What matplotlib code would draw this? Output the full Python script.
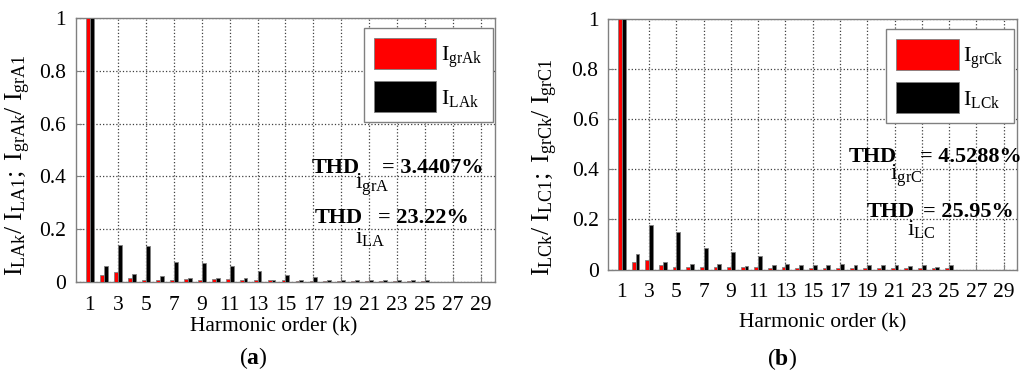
import numpy as np
import matplotlib
matplotlib.use('Agg')
import matplotlib.pyplot as plt
from matplotlib.ticker import FormatStrFormatter

plt.rcParams['font.family'] = ['Liberation Serif', 'DejaVu Serif']
plt.rcParams['mathtext.fontset'] = 'custom'
plt.rcParams['mathtext.rm'] = 'Liberation Serif'
plt.rcParams['mathtext.it'] = 'Liberation Serif:italic'
plt.rcParams['mathtext.bf'] = 'Liberation Serif:bold'

k = np.arange(1, 26)

# (a) phase A: grid current and load current spectra (normalised)
igrA = [1, 0.025, 0.038, 0.017, 0.009, 0.009, 0.009, 0.010, 0.009, 0.010,
        0.010, 0.008, 0.008, 0.006, 0.009, 0.005, 0.004, 0.003, 0.003, 0.003,
        0.003, 0.003, 0.003, 0.003, 0.003]
iLA = [1, 0.060, 0.141, 0.032, 0.136, 0.022, 0.076, 0.017, 0.071, 0.016,
       0.059, 0.016, 0.043, 0.009, 0.026, 0.009, 0.020, 0.009, 0.009, 0.008,
       0.009, 0.009, 0.008, 0.008, 0.009]

# (b) phase C
igrC = [1, 0.028, 0.037, 0.016, 0.011, 0.011, 0.011, 0.011, 0.011, 0.011,
        0.011, 0.005, 0.011, 0.005, 0.005, 0.005, 0.006, 0.008, 0.006, 0.005,
        0.006, 0.007, 0.007, 0.005, 0.005]
iLC = [1, 0.061, 0.176, 0.028, 0.149, 0.021, 0.085, 0.021, 0.068, 0.015,
       0.055, 0.016, 0.021, 0.016, 0.016, 0.016, 0.021, 0.016, 0.016, 0.016,
       0.016, 0.012, 0.016, 0.011, 0.016]

xticks = np.arange(1, 30, 2)
yticks = np.arange(0, 1.01, 0.2)

fig = plt.figure(figsize=(10.24, 3.74), dpi=100)
axA = fig.add_axes([0.0742, 0.246, 0.4092, 0.706])
axC = fig.add_axes([0.594, 0.2794, 0.3994, 0.6698])

panels = [
    (axA, igrA, iLA, r'$\mathrm{I_{grAk}}$', r'$\mathrm{I_{LAk}}$',
     r'$\mathrm{I_{LAk}/\ I_{LA1};\ I_{grAk}/\ I_{grA1}}$', (-0.103, 0.443),
     [('grA', '3.4407%'), ('LA', '23.22%')],
     [(0.563, 0.413, 0.666, 0.367, 0.730), (0.570, 0.223, 0.666, 0.167, 0.721)],
     (0.687, 0.962), (0.267, 0.126), (0.247, 0.043), 'a'),
    (axC, igrC, iLC, r'$\mathrm{I_{grCk}}$', r'$\mathrm{I_{LCk}}$',
     r'$\mathrm{I_{LCk}/\ I_{LC1};\ I_{grCk}/\ I_{grC1}}$', (-0.119, 0.41),
     [('grC', '4.5288%'), ('LC', '25.95%')],
     [(0.589, 0.429, 0.689, 0.373, 0.763), (0.633, 0.210, 0.731, 0.158, 0.770)],
     (0.680, 0.960), (0.803, 0.136), (0.764, 0.040), 'b'),
]

w = 0.28
for ax, red, blk, lr, lb, ylab, ypos, thd, pos, lpos, xlpos, tpos, tag in panels:
    ax.bar(k - w / 2, red, width=w, color='#ff0000', edgecolor='#808080',
           linewidth=0.6, label=lr, zorder=3)
    ax.bar(k + w / 2, blk, width=w, color='black', edgecolor='#808080',
           linewidth=0.6, label=lb, zorder=3)
    ax.set_xlim(0, 30)
    ax.set_ylim(0, 1)
    ax.set_xticks(xticks)
    ax.set_yticks(yticks)
    ax.yaxis.set_major_formatter(FormatStrFormatter('%g'))
    ax.grid(True, linestyle=':', color='#404040', linewidth=0.9, zorder=0)
    ax.tick_params(direction='in', length=4, labelsize=15.5, color='#808080')
    ax.tick_params(axis='x', pad=10)
    ax.tick_params(axis='y', pad=7)
    for s in ax.spines.values():
        s.set_color('#808080')
        s.set_linewidth(1.0)
    ax.set_ylabel(ylab, fontsize=18.5)
    ax.yaxis.set_label_coords(*ypos)
    fig.text(*xlpos, 'Harmonic order (k)', ha='center', va='center',
             fontsize=15.5)
    fig.text(*tpos, r'($\mathbf{%s}$)' % tag, ha='center', va='center',
             fontsize=17)

    leg = ax.legend(loc='upper left', bbox_to_anchor=lpos, fontsize=16,
                    handlelength=2.8, handleheight=1.8, labelspacing=0.5,
                    borderpad=0.45, handletextpad=0.22, borderaxespad=0,
                    fancybox=False, framealpha=1)
    leg.get_frame().set_edgecolor('#808080')
    leg.get_frame().set_linewidth(1.0)
    leg.set_zorder(5)

    for (sub, val), (tx, ty, sx, sy, vx) in zip(thd, pos):
        ax.text(tx, ty, 'THD', transform=ax.transAxes, fontsize=16,
                fontweight='bold', va='baseline', zorder=6)
        ax.text(sx, sy, r'$\mathrm{i_{%s}}$' % sub, transform=ax.transAxes,
                fontsize=17, va='center', zorder=6)
        ax.text(vx, ty, '= ' + val, transform=ax.transAxes, fontsize=16,
                fontweight='bold', va='baseline', zorder=6)

fig.savefig('out.png', dpi=100)
